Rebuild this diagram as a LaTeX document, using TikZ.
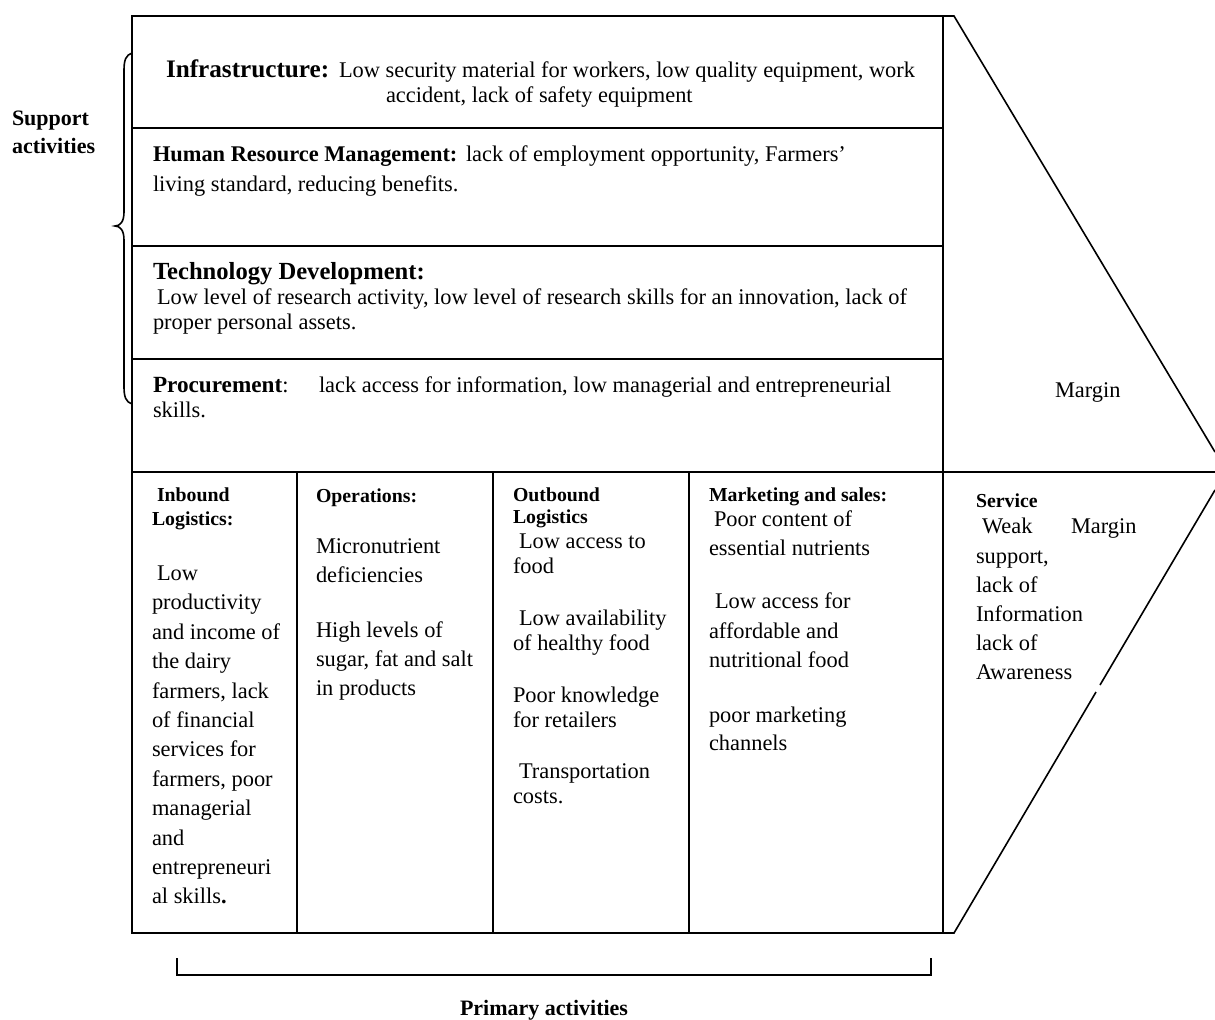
\documentclass[tikz,border=0pt]{standalone}
\usepackage{fontspec}
\setmainfont{Liberation Serif}
\newcommand\bodyf{\fontsize{11.2}{14}\selectfont}
\newcommand\colhd{\fontsize{9.9}{12}\selectfont\bfseries}
\newcommand\lblf{\fontsize{11}{13}\selectfont\bfseries}
\tikzset{
  tx/.style={inner sep=0pt, outer sep=0pt, anchor=base west, font=\bodyf},
  boxline/.style={line width=1pt, line cap=rect},
  diag/.style={line width=0.8pt},
}
\begin{document}
\begin{tikzpicture}[x=0.5pt, y=-0.5pt]
\useasboundingbox (0,0) rectangle (1215,1019);

% main frame
\draw[boxline] (132,16) rectangle (943,933);
\draw[boxline] (132,128) -- (943,128);
\draw[boxline] (132,246) -- (943,246);
\draw[boxline] (132,359) -- (943,359);
\draw[boxline] (132,472) -- (1215,472);
\draw[boxline] (297,472) -- (297,933);
\draw[boxline] (493,472) -- (493,933);
\draw[boxline] (689,472) -- (689,933);

% margin arrow shape
\draw[diag] (943,16) -- (954,16) -- (1215,452);
\draw[diag] (943,933) -- (954,933) -- (1096,692);
\draw[diag] (1100,685) -- (1215,490);

% support brace
\draw[line width=0.8pt] (132,53) .. controls (126,55) and (124,60) .. (124,70)
  -- (124,212) .. controls (124,222) and (120,226) .. (115,226)
  .. controls (120,226) and (124,230) .. (124,240)
  -- (124,387) .. controls (124,397) and (126,402) .. (132,404);

% primary bracket
\draw[line width=0.8pt] (177,958) -- (177,975) -- (931,975) -- (931,958);

% side labels
\node[tx, font=\lblf] (sup1) at (12,125) {Support};
\node[tx, font=\lblf] (sup2) at (12,153) {activities};
\node[tx, anchor=base, font=\lblf] (prim) at (544,1015) {Primary activities};
\node[tx] (marg1) at (1055,397) {Margin};

% support activities
\node[tx, font=\fontsize{12.6}{14}\selectfont\bfseries] (infh) at (166,77) {Infrastructure:};
\node[tx] (inf1) at (339,77) {Low security material for workers, low quality equipment, work};
\node[tx] (inf2) at (386,102) {accident, lack of safety equipment};

\node[tx, font=\fontsize{11.2}{14}\selectfont\bfseries] (hrmh) at (153,161) {Human Resource Management:};
\node[tx] (hrm1) at (466,161) {lack of employment opportunity, Farmers’};
\node[tx] (hrm2) at (153,191) {living standard, reducing benefits.};

\node[tx, font=\fontsize{12.3}{14}\selectfont\bfseries] (tech) at (153,279) {Technology Development:};
\node[tx] (tech1) at (157,304) {Low level of research activity, low level of research skills for an innovation, lack of};
\node[tx] (tech2) at (153,329) {proper personal assets.};

\node[tx] (proch) at (153,392) {{\fontsize{11.6}{14}\selectfont\bfseries Procurement}:};
\node[tx] (proc1) at (319,392) {lack access for information, low managerial and entrepreneurial};
\node[tx] (proc2) at (153,417) {skills.};

% primary activities columns
\foreach \x/\y/\t [count=\i] in {157/501/{\colhd Inbound}, 152/525/{\colhd Logistics:},
  157/580/{Low}, 152/609/{productivity}, 152/639/{and income of}, 152/668/{the dairy},
  152/698/{farmers, lack}, 152/727/{of financial}, 152/756/{services for},
  152/786/{farmers, poor}, 152/815/{managerial}, 152/845/{and},
  152/874/{entrepreneuri}, 152/903/{al skills\textbf{.}}}
  \node[tx] (inb\i) at (\x,\y) {\t};

\foreach \x/\y/\t [count=\i] in {316/502/{\colhd Operations:},
  316/553/{Micronutrient}, 316/582/{deficiencies},
  316/637/{High levels of}, 316/666/{sugar, fat and salt}, 316/695/{in products}}
  \node[tx] (ops\i) at (\x,\y) {\t};

\foreach \x/\y/\t [count=\i] in {513/501/{\colhd Outbound}, 513/523/{\colhd Logistics},
  519/548/{Low access to}, 513/573/{food},
  519/625/{Low availability}, 513/650/{of healthy food},
  513/702/{Poor knowledge}, 513/727/{for retailers},
  519/778/{Transportation}, 513/803/{costs.}}
  \node[tx] (outb\i) at (\x,\y) {\t};

\foreach \x/\y/\t [count=\i] in {709/501/{\colhd Marketing and sales:},
  714/526/{Poor content of}, 709/555/{essential nutrients},
  715/608/{Low access for}, 709/638/{affordable and}, 709/667/{nutritional food},
  709/722/{poor marketing}, 709/750/{channels}}
  \node[tx] (mkt\i) at (\x,\y) {\t};

\foreach \x/\y/\t [count=\i] in {976/507/{\colhd Service},
  982/533/{Weak}, 976/563/{support,}, 976/592/{lack of},
  976/621/{Information}, 976/650/{lack of}, 976/679/{Awareness}}
  \node[tx] (srv\i) at (\x,\y) {\t};
\node[tx] (marg2) at (1071,533) {Margin};
\end{tikzpicture}
\end{document}
